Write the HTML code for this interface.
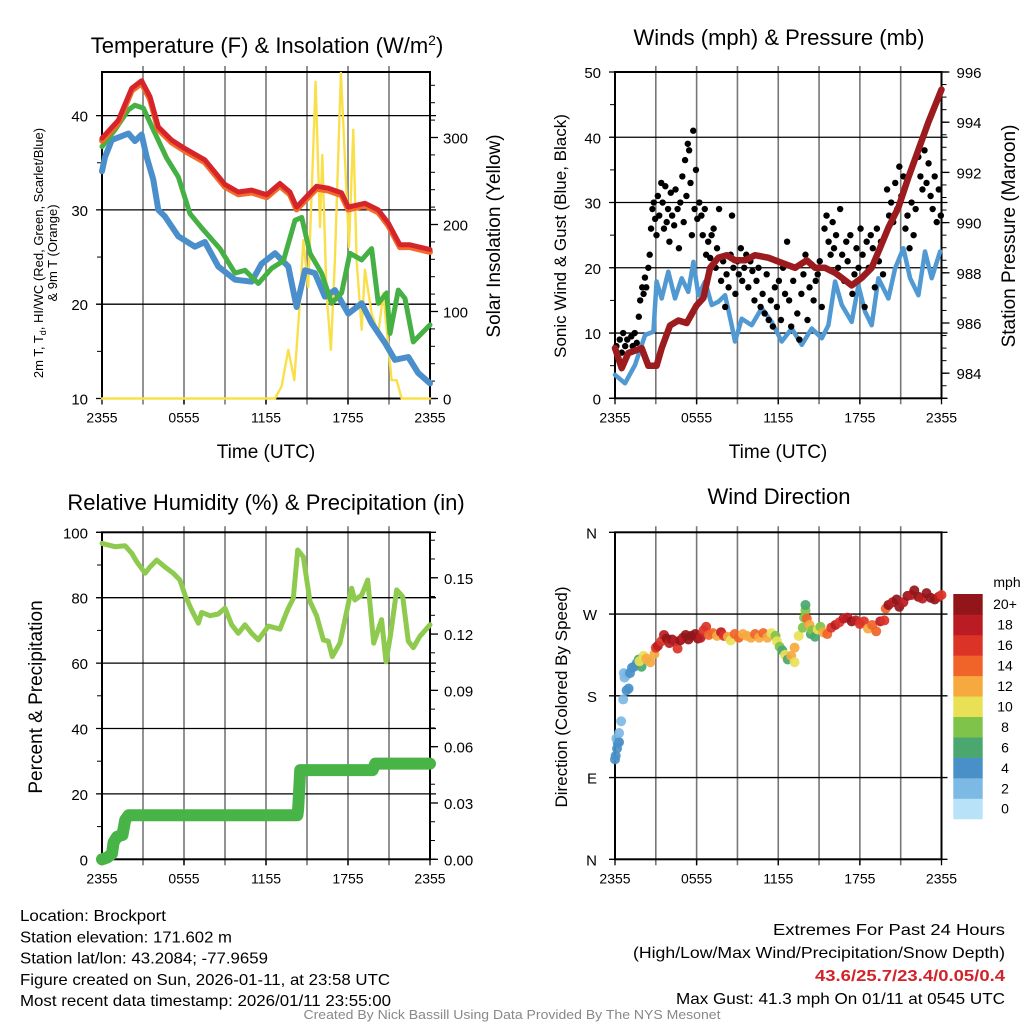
<!DOCTYPE html>
<html><head><meta charset="utf-8"><style>
html,body{margin:0;padding:0;background:#fff}
svg{display:block;font-family:"Liberation Sans",Arial,sans-serif}
</style></head><body>
<svg id="c" width="1024" height="1024" viewBox="0 0 1024 1024" xmlns="http://www.w3.org/2000/svg"></svg>
<script>
// ---------- data ----------
const hourTicks = [0,6,12,18,24];
const hourTickLabels = ["2355","0555","1155","1755","2355"];
const tempHours = [0,1.19,2.17,2.9,3.51,4.12,5.1,6.07,7.53,9.0,9.97,10.95,12.05,13.02,13.75,14.24,15.09,15.7,16.56,17.53,18.02,19.24,20.22,20.95,21.8,22.53,24];
const tempValues = [37.6,39.5,42.9,43.7,42.0,38.8,37.4,36.5,35.3,32.7,31.9,32.1,31.6,32.8,31.9,30.3,31.6,32.5,32.3,31.8,30.3,30.7,30.0,28.6,26.3,26.3,25.8];
const dewHours = [0,0.95,1.93,2.41,3.02,3.75,4.73,5.58,6.44,7.29,8.63,9.73,10.46,11.44,12.41,13.27,14.12,14.61,15.22,16.07,16.8,17.53,18.14,19.0,19.73,20.22,20.83,21.07,21.68,22.17,22.78,24];
const dewValues = [36.7,38.5,40.6,41.1,40.8,38.5,35.5,33.5,29.6,28.1,25.9,23.3,23.6,22.2,23.8,24.6,28.9,29.2,25.4,23.3,20.1,21.2,25.4,24.7,25.9,20.1,21.2,16.9,21.5,20.6,16.0,17.8];
const chillHours = [0,0.22,0.71,1.93,2.41,2.9,3.27,3.75,4.12,4.61,5.58,6.8,7.53,8.51,9.73,10.95,11.68,12.66,13.63,14.24,14.85,15.58,16.31,17.04,18.02,19.0,19.73,20.71,21.43,22.41,23.14,24];
const chillValues = [34.1,35.6,37.4,38.1,37.3,38.0,35.6,33.2,30.0,29.3,27.2,26.1,26.6,24.0,22.6,22.4,24.3,25.4,24.0,19.7,23.6,23.3,20.8,21.5,19.0,20.1,18.0,15.9,14.1,14.4,12.7,11.6];
const solarHours = [0,12.66,13.14,13.63,14.07,14.49,14.73,15.09,15.46,15.63,15.95,16.12,16.43,16.75,17.04,17.48,17.78,18.07,18.39,18.63,19.0,19.24,19.73,20.22,20.58,21.19,21.56,21.92,24];
const solarValues = [0,0,14,56,21,113,182,128,289,364,197,280,121,56,159,374,274,174,309,159,79,148,98,75,121,21,21,0,0];
const tempTicks = [10,20,30,40];
const solarTicks = [0,100,200,300];

const windHours = [0,0.735,1.47,2.21,2.82,3.06,3.43,3.92,4.41,4.9,5.39,5.76,6.13,6.62,7.11,7.6,8.09,8.58,8.82,9.31,10.05,10.78,11.52,12.25,12.99,13.73,14.46,15.2,15.69,16.18,16.67,17.4,17.89,18.38,18.87,19.36,20.1,20.59,21.2,21.69,22.3,22.79,23.28,23.9];
const windValues = [3.6,2.3,5.1,9.7,10.2,17.9,15.3,19.4,15.3,18.4,16.3,20.9,15.8,17.9,14.3,14.8,15.8,11.2,8.7,12.2,11.2,13.8,11.7,8.7,10.7,8.2,10.7,9.2,11.2,17.9,14.3,11.7,17.3,13.3,11.2,18.4,15.3,19.9,23.0,18.4,15.8,22.5,18.4,22.5];
const gustHours = [0.1,0.2,0.35,0.5,0.6,0.75,0.9,1.05,1.2,1.3,1.45,1.6,1.75,1.85,2.0,2.1,2.2,2.3,2.45,2.55,2.65,2.75,2.85,2.95,3.05,3.15,3.25,3.4,3.5,3.6,3.7,3.8,3.9,4.0,4.1,4.2,4.35,4.45,4.6,4.7,4.8,4.95,5.05,5.15,5.25,5.35,5.45,5.55,5.65,5.75,5.85,5.95,6.05,6.2,6.35,6.45,6.6,6.7,6.85,7.0,7.1,7.25,7.4,7.5,7.65,7.8,7.95,8.1,8.2,8.35,8.5,8.6,8.7,8.85,9.0,9.1,9.25,9.35,9.5,9.65,9.8,9.95,10.1,10.25,10.4,10.55,10.7,10.85,11.0,11.15,11.3,11.45,11.6,11.75,11.9,12.05,12.2,12.35,12.5,12.65,12.8,12.95,13.1,13.25,13.4,13.55,13.7,13.85,14.0,14.15,14.3,14.45,14.6,14.75,14.9,15.05,15.2,15.4,15.55,15.7,15.85,16.0,16.1,16.25,16.4,16.55,16.7,16.85,17.0,17.1,17.3,17.45,17.6,17.75,17.9,18.05,18.2,18.35,18.5,18.65,18.8,18.95,19.1,19.25,19.4,19.55,19.7,20.0,20.15,20.3,20.45,20.6,20.75,20.9,21.05,21.2,21.35,21.5,21.65,21.8,21.95,22.1,22.3,22.45,22.6,22.75,22.9,23.05,23.2,23.35,23.5,23.65,23.8,23.95];
const gustValues = [8,6,9,7,10,8,9,7,9.5,8,10,8.5,12.5,15,17,16,18.5,17,20,22,26,29,30,27.5,25,31,28,33,30,26,32.5,27,29,24,31.5,28,26.5,32,29,23,30,34,27,36.5,31,39,38,33,25,41,29,35,27.5,30,28,25,29,22,24,21.5,25,26,20,23,29,18,21,14,19,17,22,28,20,16,21,19,23,18,20,22,17,21,19.5,15,18,20,14,16,13,19,12,15,11,17,14,18,12,20,16,24,15,11,18,20,13,9,16,19,22,12,17,20.5,15,18,19,21,14,26,28,24,22,27,23,25,20,29,22,18,24,21,25,16,19,23,20,26,22,14,24,20,25,23,17,26,21,24,19,32,28,30,27,33,29,35.5,31,34,26,28,23,30,25,29,37,34,32,38,33,36,31,29,34,27,32,28];
const presHours = [0,0.49,0.98,1.96,2.45,3.06,3.43,4.04,4.66,5.27,6.0,6.5,6.99,7.6,8.21,8.82,9.56,10.29,11.27,12.25,13.24,14.09,14.71,15.44,16.18,16.67,17.4,18.14,18.87,19.49,20.1,20.83,21.57,22.3,23.04,24];
const presValues = [985.0,984.2,984.8,985.0,984.3,984.3,985.0,985.9,986.1,986.0,986.7,987.0,988.2,988.6,988.7,988.5,988.5,988.7,988.6,988.4,988.2,988.5,988.2,988.2,988.0,987.8,987.5,987.8,988.2,989.0,989.8,990.6,991.8,992.9,994.0,995.3];
const windTicks = [0,10,20,30,40,50];
const presTicks = [984,986,988,990,992,994,996];

const rhHours = [0,0.95,1.68,2.17,2.54,3.15,3.51,4.0,4.61,5.22,5.7,6.07,6.56,7.05,7.29,7.9,8.51,9.0,9.49,9.97,10.46,10.95,11.44,12.17,13.02,13.63,14.0,14.32,14.73,15.22,15.7,16.19,16.56,16.85,17.41,17.77,18.26,18.5,19.0,19.44,19.88,20.46,20.78,21.11,21.56,22.0,22.41,22.78,23.26,24];
const rhValues = [96.6,95.6,95.9,93.6,91.0,87.5,89.4,91.5,89.4,87.5,85.4,80.8,76.2,72.2,75.5,74.5,75.0,76.8,71.7,69.1,71.7,69.1,67.1,71.3,70.4,76.8,79.8,94.6,92.5,78.8,74.5,67.1,66.7,62.0,66.1,73.2,82.9,79.3,80.8,85.4,66.1,73.3,60.4,68.6,82.4,80.3,66.7,64.7,68.2,71.7];
const precipHours = [0,0.4,0.73,0.85,1.1,1.5,1.7,1.95,14.3,14.35,14.4,14.45,14.5,19.8,20.0,24];
const precipValues = [0,0.001,0.003,0.009,0.012,0.013,0.021,0.0235,0.0235,0.0265,0.033,0.04,0.0475,0.0475,0.051,0.051];
const rhTicks = [0,20,40,60,80,100];
const precipTicks = [0,0.03,0.06,0.09,0.12,0.15];
const precipTickLabels = ["0.00","0.03","0.06","0.09","0.12","0.15"];

const dirHours = [0.0,0.05,0.15,0.2,0.1,0.3,0.3,0.45,0.6,0.85,1.0,0.7,0.65,0.85,1.1,1.25,1.4,1.6,1.75,1.95,1.8,2.1,2.3,2.6,2.9,3.0,3.15,3.4,3.6,3.8,4.0,4.2,4.4,4.6,4.8,5.0,5.2,5.4,5.6,5.9,6.1,6.3,6.5,6.7,6.9,7.2,7.5,7.8,8.0,8.3,8.5,8.8,9.1,9.4,9.7,10.0,10.3,10.6,10.9,11.2,11.5,11.8,11.9,12.1,12.3,12.5,12.7,12.95,13.2,13.2,13.5,13.8,13.9,14.0,14.0,14.1,14.3,14.4,14.5,14.7,14.9,15.1,15.3,15.6,15.9,16.2,16.5,16.8,17.1,17.4,17.7,18.0,18.3,18.6,18.9,19.2,19.5,19.8,19.9,20.1,20.4,20.7,20.9,21.2,21.5,21.8,22.0,22.3,22.6,22.9,23.2,23.5,23.8,24.0];
const dirValues = [110,114,122,128,133,129,139,152,176,186,188,200,205,203,205,211,212,216,220,212,218,224,221,217,226,233,235,240,247,243,238,242,240,232,241,244,247,242,246,248,243,244,252,256,247,249,246,250,246,245,241,248,244,248,246,244,248,244,249,244,249,246,240,234,230,225,220,224,217,233,246,255,266,274,280,265,258,248,252,245,253,256,250,248,255,258,261,265,266,262,263,259,262,254,258,251,262,263,276,280,283,286,278,283,290,291,296,289,287,293,288,286,289,291];
const dirSpeeds = [4,4,4,4,3,4,2,2,2,4,4,2,2,2,4,4,4,5,6,7,10,10,12,12,13,17,19,16,18,20,19,21,18,16,20,19,21,21,20,21,20,18,17,16,14,14,12,18,16,12,10,14,14,12,13,12,14,12,15,12,11,9,10,8,7,10,7,12,10,12,10,8,9,8,7,14,12,6,8,7,10,9,12,14,16,18,17,19,18,20,18,17,16,13,15,15,18,17,15,20,19,20,20,19,20,18,20,20,18,20,20,20,19,17];
const dirTicks = [0,90,180,270,360];
const dirTickLabels = ["N","E","S","W","N"];
const speedColors = ["#b7e2f8","#7db9e5","#4a90c8","#4aa76f","#7fc34a","#e8e156","#f6a93e","#f06429","#dc3327","#bb1c23","#921619"];
const speedLabels = ["0","2","4","6","8","10","12","14","16","18","20+"];

// ---------- drawing ----------
const NS = "http://www.w3.org/2000/svg";
const svg = document.getElementById('c');
function mk(tag, attrs, parent){ const e=document.createElementNS(NS,tag); for(const k in attrs) e.setAttribute(k,attrs[k]); (parent||svg).appendChild(e); return e; }
function txt(s, attrs, parent){ const e=mk('text',attrs,parent); e.textContent=s; return e; }
function lin(a0,a1,p0,p1){ return v => p0+(v-a0)/(a1-a0)*(p1-p0); }

const P1={x0:102,x1:430,y0:72,y1:398.5}, P2={x0:615,x1:941.5,y0:72,y1:398.3},
      P3={x0:102,x1:430,y0:532.3,y1:859.3}, P4={x0:615,x1:941.5,y0:532.3,y1:859.3};

function frame(P, name, yTicksPx){
  const g=mk('g',{});
  
  
  const xs=lin(0,24,P.x0,P.x1);
  for(let h=3;h<24;h+=3){ const l=mk('line',{x1:xs(h),x2:xs(h),y1:P.y0-6,y2:P.y1+6,stroke:'#777','stroke-width':1.6},g);   }
  for(const y of yTicksPx){ const l=mk('line',{x1:P.x0-6,x2:P.x1+6,y1:y,y2:y,stroke:'#000','stroke-width':1.3},g);   }
  hourTicks.forEach((h,i)=>{
    mk('line',{x1:xs(h),x2:xs(h),y1:P.y1,y2:P.y1+6,stroke:'#000','stroke-width':1.3},g);
    const t=txt(hourTickLabels[i],{x:xs(h),y:P.y1+24,'font-size':14,'text-anchor':'middle'},g);
     
  });
  const r=mk('rect',{x:P.x0,y:P.y0,width:P.x1-P.x0,height:P.y1-P.y0,fill:'none',stroke:'#000','stroke-width':2},g);
   
  return g;
}
function minorTicks(P, side, sc, a0,a1,step){
  const x = side==='l'?P.x0:P.x1, d = side==='l'?-5:5;
  for(let v=a0; v<=a1+1e-9; v+=step){ const y=sc(v); if(y<P.y0-0.5||y>P.y1+0.5) continue; mk('line',{x1:x,x2:x+d,y1:y,y2:y,stroke:'#000','stroke-width':1}); }
}
function path(xsArr, ysArr, xs, ys, attrs, name){
  let d=''; xsArr.forEach((h,i)=>{ d+=(i?'L':'M')+xs(h).toFixed(1)+','+ys(ysArr[i]).toFixed(1); });
  const p=mk('path',Object.assign({d:d,fill:'none','stroke-linejoin':'round','stroke-linecap':'round'},attrs));
    return p;
}

// Panel 1
{
  const P=P1, xs=lin(0,24,P.x0,P.x1), ys=lin(10,10+(P.y1-P.y0)/9.43,P.y1,P.y0), yr=lin(0,(P.y1-P.y0)/0.87,P.y1,P.y0);
  frame(P,'temperature-panel',tempTicks.map(ys));
  minorTicks(P,'l',ys,10,45,5); minorTicks(P,'r',yr,0,375,20);
  tempTicks.forEach(v=>{ const t=txt(v,{x:P.x0-14,y:ys(v)+6,'font-size':15,'text-anchor':'end'});   });
  solarTicks.forEach(v=>{ mk('line',{x1:P.x1,x2:P.x1+8,y1:yr(v),y2:yr(v),stroke:'#000','stroke-width':1.3}); const t=txt(v,{x:P.x1+13,y:yr(v)+6,'font-size':15});   });
  path(solarHours,solarValues,xs,yr,{stroke:'#f9e04b','stroke-width':2.4},'solar-line');
  path(chillHours,chillValues,xs,ys,{stroke:'#4a8fcb','stroke-width':6},'windchill-line');
  path(dewHours,dewValues,xs,ys,{stroke:'#45b043','stroke-width':5},'dewpoint-line');
  path(tempHours,tempValues.map(v=>v-0.25),xs,ys,{stroke:'#f26b2a','stroke-width':6},'9m-temp-line');
  path(tempHours,tempValues,xs,ys,{stroke:'#d6252a','stroke-width':5},'temperature-line');
}
// Panel 2
{
  const P=P2, xs=lin(0,24,P.x0,P.x1), ys=lin(0,50,P.y1,P.y0), yp=lin(983,996,P.y1,P.y0);
  frame(P,'winds-panel',windTicks.map(ys));
  minorTicks(P,'l',ys,0,50,5); minorTicks(P,'r',yp,983,996,0.5);
  windTicks.forEach(v=>{ const t=txt(v,{x:P.x0-14,y:ys(v)+6,'font-size':15,'text-anchor':'end'});   });
  presTicks.forEach(v=>{ mk('line',{x1:P.x1,x2:P.x1+8,y1:yp(v),y2:yp(v),stroke:'#000','stroke-width':1.3}); const t=txt(v,{x:P.x1+15,y:yp(v)+6,'font-size':15});   });
  path(windHours,windValues,xs,ys,{stroke:'#5199d3','stroke-width':4.5},'sonic-wind-line');
  const g=mk('g',{});  
  gustHours.forEach((h,i)=>{ const c=mk('circle',{cx:xs(h),cy:ys(gustValues[i]),r:3.2,fill:'#000'},g);   });
  path(presHours,presValues,xs,yp,{stroke:'#9b1b1e','stroke-width':6.5},'pressure-line');
}
// Panel 3
{
  const P=P3, xs=lin(0,24,P.x0,P.x1), ys=lin(0,100,P.y1,P.y0), yr=lin(0,(P.y1-P.y0)/1877,P.y1,P.y0);
  frame(P,'humidity-panel',rhTicks.map(ys));
  minorTicks(P,'l',ys,0,100,10); minorTicks(P,'r',yr,0,0.17,0.01);
  rhTicks.forEach(v=>{ const t=txt(v,{x:P.x0-14,y:ys(v)+6,'font-size':15,'text-anchor':'end'});   });
  precipTicks.forEach((v,i)=>{ mk('line',{x1:P.x1,x2:P.x1+8,y1:yr(v),y2:yr(v),stroke:'#000','stroke-width':1.3}); const t=txt(precipTickLabels[i],{x:P.x1+14,y:yr(v)+6,'font-size':15});   });
  path(rhHours,rhValues,xs,ys,{stroke:'#8dca4e','stroke-width':5},'rh-line');
  path(precipHours,precipValues,xs,yr,{stroke:'#48b447','stroke-width':12},'precip-line');
}
// Panel 4
{
  const P=P4, xs=lin(0,24,P.x0,P.x1), ys=lin(0,360,P.y1,P.y0);
  frame(P,'wind-direction-panel',dirTicks.map(ys));
  dirTicks.forEach((v,i)=>{ const t=txt(dirTickLabels[i],{x:P.x0-18,y:ys(v)+6,'font-size':15,'text-anchor':'end'});   });
  const g=mk('g',{});  
  dirHours.forEach((h,i)=>{ const k=Math.min(10,Math.floor(dirSpeeds[i]/2)); const c=mk('circle',{cx:xs(h),cy:ys(dirValues[i]),r:5,fill:speedColors[k],'fill-opacity':0.92},g);   });
  const cb=mk('g',{});  
  const top=594, bh=20.45;
  speedColors.forEach((col,i)=>{ const j=10-i; mk('rect',{x:953.3,y:top+j*bh,width:29.4,height:bh+0.3,fill:col},cb); const t=txt(speedLabels[i],{x:1005,y:top+j*bh+bh/2+5,'font-size':14,'text-anchor':'middle'},cb);   });
  const u=txt('mph',{x:1007,y:587,'font-size':14,'text-anchor':'middle'},cb);  
}
</script>
<script>
// static text
(function(){
const NS="http://www.w3.org/2000/svg", svg=document.getElementById('c');
function T(s,a,name){ const e=document.createElementNS(NS,'text'); for(const k in a) e.setAttribute(k,a[k]); e.innerHTML=s;   svg.appendChild(e); return e; }
T('Temperature (F) &amp; Insolation (W/m<tspan dy="-8" font-size="14">2</tspan><tspan dy="8">)</tspan>',{x:267,y:53,'font-size':22,'text-anchor':'middle'},'temperature-title');
T('Winds (mph) &amp; Pressure (mb)',{x:779,y:45,'font-size':22,'text-anchor':'middle'},'winds-title');
T('Relative Humidity (%) &amp; Precipitation (in)',{x:266,y:510,'font-size':22,'text-anchor':'middle'},'humidity-title');
T('Wind Direction',{x:779,y:504,'font-size':22,'text-anchor':'middle'},'direction-title');
T('Time (UTC)',{x:266,y:458,'font-size':19,'text-anchor':'middle'},'x-axis-title');
T('Time (UTC)',{x:778,y:458,'font-size':19,'text-anchor':'middle'},'x-axis-title-winds');
T('2m T, T<tspan dy="3" font-size="9">d</tspan><tspan dy="-3">, HI/WC (Red, Green, Scarlet/Blue)</tspan>',{x:0,y:0,'font-size':13,'text-anchor':'middle',transform:'translate(43,253) rotate(-90)'},'temp-y-title');
T('&amp; 9m T (Orange)',{x:0,y:0,'font-size':13,'text-anchor':'middle',transform:'translate(57,253) rotate(-90)'},'temp-y-title-2');
T('Solar Insolation (Yellow)',{x:0,y:0,'font-size':19,'text-anchor':'middle',transform:'translate(500,236) rotate(-90)'},'solar-y-title');
T('Sonic Wind &amp; Gust (Blue, Black)',{x:0,y:0,'font-size':17,'text-anchor':'middle',transform:'translate(566,236) rotate(-90)'},'wind-y-title');
T('Station Pressure (Maroon)',{x:0,y:0,'font-size':19,'text-anchor':'middle',transform:'translate(1015,236) rotate(-90)'},'pressure-y-title');
T('Percent &amp; Precipitation',{x:0,y:0,'font-size':19,'text-anchor':'middle',transform:'translate(42,697) rotate(-90)'},'rh-y-title');
T('Direction (Colored By Speed)',{x:0,y:0,'font-size':17,'text-anchor':'middle',transform:'translate(567,697) rotate(-90)'},'direction-y-title');
const L=['Location: Brockport','Station elevation: 171.602 m','Station lat/lon: 43.2084; -77.9659','Figure created on Sun, 2026-01-11, at 23:58 UTC','Most recent data timestamp: 2026/01/11 23:55:00'];
const LW=[146,212,248,370,371];
L.forEach((s,i)=>T(s,{x:20,y:921+i*21.3,'font-size':16,textLength:LW[i],lengthAdjust:'spacingAndGlyphs'},'station-info-line'));
T('Extremes For Past 24 Hours',{x:1005,y:935,'font-size':16,'text-anchor':'end',textLength:232,lengthAdjust:'spacingAndGlyphs'},'extremes-heading');
T('(High/Low/Max Wind/Precipitation/Snow Depth)',{x:1005,y:958,'font-size':16,'text-anchor':'end',textLength:372,lengthAdjust:'spacingAndGlyphs'},'extremes-legend');
T('43.6/25.7/23.4/0.05/0.4',{x:1005,y:981,'font-size':16,'font-weight':'bold',fill:'#d2232a','text-anchor':'end',textLength:190,lengthAdjust:'spacingAndGlyphs'},'extremes-values');
T('Max Gust: 41.3 mph On 01/11 at 0545 UTC',{x:1005,y:1004,'font-size':16,'text-anchor':'end',textLength:329,lengthAdjust:'spacingAndGlyphs'},'max-gust');
T('Created By Nick Bassill Using Data Provided By The NYS Mesonet',{x:512,y:1019,'font-size':12.5,fill:'#888','text-anchor':'middle',textLength:417,lengthAdjust:'spacingAndGlyphs'},'credit-line');
})();
</script>
</body></html>
